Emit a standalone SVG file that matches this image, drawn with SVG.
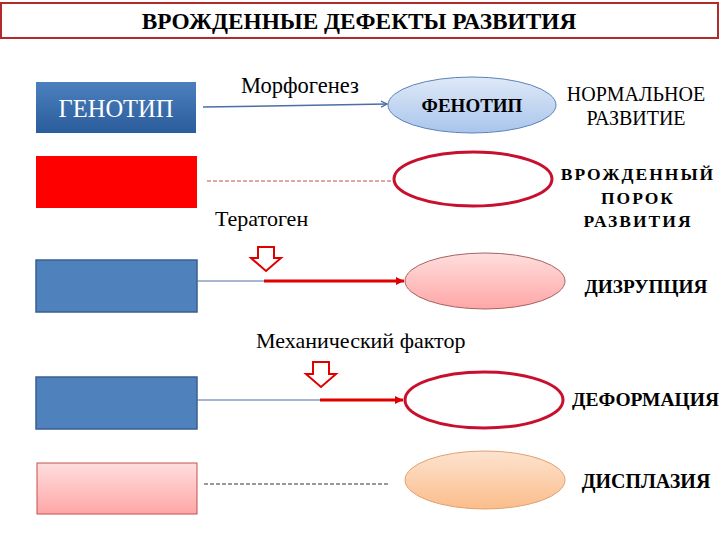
<svg xmlns="http://www.w3.org/2000/svg" width="720" height="540" viewBox="0 0 720 540">
<defs>
<linearGradient id="gBlue" x1="0" y1="0" x2="0" y2="1"><stop offset="0" stop-color="#4b80bf"/><stop offset="1" stop-color="#2b5c9b"/></linearGradient>
<linearGradient id="gLBlue" x1="0" y1="0" x2="0" y2="1"><stop offset="0" stop-color="#dfe9f7"/><stop offset="1" stop-color="#a9c5ec"/></linearGradient>
<linearGradient id="gPink" x1="0" y1="0" x2="0" y2="1"><stop offset="0" stop-color="#ffdede"/><stop offset="1" stop-color="#ffa6a6"/></linearGradient>
<linearGradient id="gOrange" x1="0" y1="0" x2="0" y2="1"><stop offset="0" stop-color="#fde3cf"/><stop offset="1" stop-color="#fbbd8b"/></linearGradient>
<marker id="aBlue" markerWidth="8" markerHeight="8" refX="7" refY="4" orient="auto" markerUnits="userSpaceOnUse"><path d="M1,1 L7,4 L1,7" fill="none" stroke="#4a6fa5" stroke-width="1.2"/></marker>
<marker id="aRed" markerWidth="12" markerHeight="12" refX="10" refY="6" orient="auto" markerUnits="userSpaceOnUse"><path d="M2,2 L10,6 L2,10 Z" fill="#e00000"/></marker>
</defs>
<style>
.b{font-weight:bold}
.hollow{fill:#fff;stroke:#e00000;stroke-width:2;stroke-linejoin:miter}
</style>
<g font-family="Liberation Serif">
<g id="title">
<rect x="1" y="3" width="717" height="35" fill="#fff" stroke="#b22a2a" stroke-width="2"/>
<text class="b" x="359" y="29" font-size="23.3" text-anchor="middle">ВРОЖДЕННЫЕ ДЕФЕКТЫ РАЗВИТИЯ</text>
</g>
<g id="genotype">
<rect x="36" y="82" width="160" height="51" fill="url(#gBlue)"/>
<text x="116" y="117" font-size="24.5" fill="#fff" text-anchor="middle">ГЕНОТИП</text>
</g>
<g id="phenotype">
<ellipse cx="472" cy="105" rx="84" ry="28" fill="url(#gLBlue)" stroke="#5a82b8" stroke-width="1"/>
<text class="b" x="472" y="112" font-size="19" text-anchor="middle">ФЕНОТИП</text>
</g>
<g id="normal">
<text x="636" y="101" font-size="20" text-anchor="middle">НОРМАЛЬНОЕ</text>
<text x="636" y="125" font-size="20" text-anchor="middle">РАЗВИТИЕ</text>
</g>
<g id="red-box"><rect x="36" y="156" width="161" height="52" fill="#ff0000"/></g>
<g id="red-ellipse"><ellipse cx="473" cy="179" rx="79" ry="27" fill="#fff" stroke="#c8102e" stroke-width="3"/></g>
<g id="vpr">
<text class="b" x="638" y="180" font-size="17.5" text-anchor="middle" letter-spacing="2">ВРОЖДЕННЫЙ</text>
<text class="b" x="638" y="204" font-size="17.5" text-anchor="middle" letter-spacing="2">ПОРОК</text>
<text class="b" x="638" y="227" font-size="17.5" text-anchor="middle" letter-spacing="2">РАЗВИТИЯ</text>
</g>
<g id="blue-box-3"><rect x="36" y="260" width="161" height="52" fill="#4f81bd" stroke="#3a5f8f" stroke-width="1.5"/></g>
<g id="pink-ellipse">
<ellipse cx="485" cy="281" rx="80" ry="28" fill="url(#gPink)" stroke="#a86060" stroke-width="1"/>
</g>
<g id="disruption"><text class="b" x="646" y="293" font-size="19.3" text-anchor="middle">ДИЗРУПЦИЯ</text></g>
<g id="blue-box-4"><rect x="36" y="377" width="161" height="52" fill="#4f81bd" stroke="#3a5f8f" stroke-width="1.5"/></g>
<g id="red-ellipse-4"><ellipse cx="484" cy="400" rx="79" ry="28" fill="#fff" stroke="#c8102e" stroke-width="3"/></g>
<g id="deformation"><text class="b" x="572" y="406" font-size="19.5">ДЕФОРМАЦИЯ</text></g>
<g id="pink-box"><rect x="37" y="463" width="160" height="51" fill="url(#gPink)" stroke="#c0504d" stroke-width="1"/></g>
<g id="orange-ellipse"><ellipse cx="485" cy="480" rx="80" ry="29" fill="url(#gOrange)" stroke="#e2a06e" stroke-width="1"/></g>
<g id="dysplasia"><text class="b" x="646" y="488" font-size="20" text-anchor="middle">ДИСПЛАЗИЯ</text></g>
<g id="labels">
<text x="241" y="93" font-size="22.5">Морфогенез</text>
<text x="215" y="226" font-size="22">Тератоген</text>
<text x="256" y="348" font-size="22">Механический фактор</text>
</g>
</g>
<g id="connectors">
<line x1="203" y1="107" x2="387" y2="104" stroke="#4a6fa5" stroke-width="1.5" marker-end="url(#aBlue)"/>
<line x1="207" y1="181" x2="392" y2="181" stroke="#c0504d" stroke-width="1" stroke-dasharray="4,2"/>
<line x1="197" y1="281" x2="264" y2="281" stroke="#4a6fa5" stroke-width="1"/>
<line x1="264" y1="281" x2="404" y2="281" stroke="#e00000" stroke-width="3" marker-end="url(#aRed)"/>
<polygon class="hollow" points="258,247 274,247 274,258 281,258 266,271 251,258 258,258"/>
<line x1="197" y1="400" x2="320" y2="400" stroke="#4a6fa5" stroke-width="1"/>
<line x1="320" y1="400" x2="403" y2="400" stroke="#e00000" stroke-width="3" marker-end="url(#aRed)"/>
<polygon class="hollow" points="313,362 329,362 329,374 336,374 321,387 306,374 313,374"/>
<line x1="204" y1="484" x2="390" y2="484" stroke="#333" stroke-width="1" stroke-dasharray="4,2"/>
</g>
</svg>
